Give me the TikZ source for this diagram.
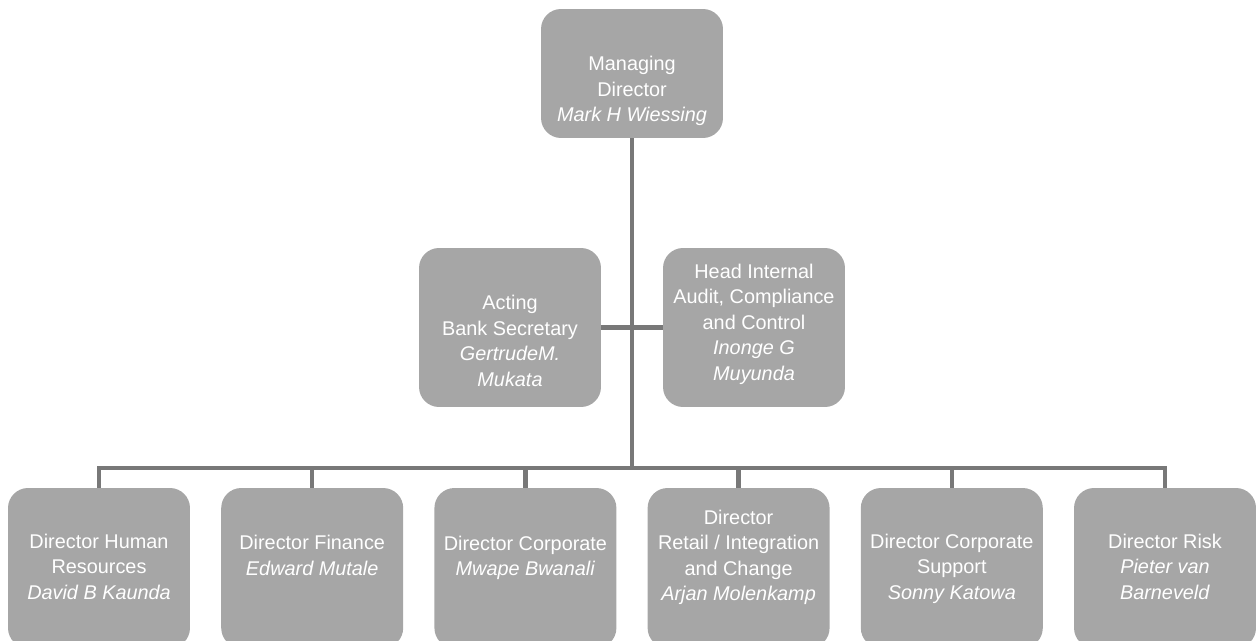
\documentclass[tikz,border=0pt]{standalone}
\usepackage{fontspec}
\setmainfont{Liberation Sans}
\usetikzlibrary{positioning}
\definecolor{boxgray}{RGB}{166,166,166}
\definecolor{linegray}{RGB}{120,120,120}

\begin{document}
\begin{tikzpicture}[
    x=0.02cm, y=-0.02cm,
    box/.style={rectangle, rounded corners=0.4cm, fill=boxgray, minimum width=3.64cm, inner sep=0pt},
    topbox/.style={box, minimum height=2.58cm},
    midbox/.style={box, minimum height=3.18cm},
    lowbox/.style={box, minimum height=3.2cm},
    txt/.style={align=center, text=white, inner sep=0pt, font=\fontsize{11.3}{14.5}\selectfont},
    connection/.style={draw=linegray, line width=2.5pt}
]
\useasboundingbox (0,0) rectangle (1256,641);

% Managing director
\node[topbox] (md) at (632,73.5) {};
\node[txt] (mdt) at (632,91) {Managing\\Director\\\textit{Mark H Wiessing}};

% Staff boxes
\node[midbox] (bs) at (510,327.5) {};
\node[txt] (bst) at (510,341) {Acting\\Bank Secretary\\\textit{GertrudeM.}\\\textit{Mukata}};
\node[midbox] (ia) at (754,327.5) {};
\node[txt] (iat) at (754,324) {Head Internal\\Audit, Compliance\\and Control\\\textit{Inonge G}\\\textit{Muyunda}};

% Directors
\node[lowbox] (hr) at (99,568) {};
\node[txt] (hrt) at (99,566.5) {Director Human\\Resources\\\textit{David B Kaunda}};
\node[lowbox] (fin) at (312.2,568) {};
\node[txt] (fint) at (312.2,555.5) {Director Finance\\\textit{Edward Mutale}};
\node[lowbox] (corp) at (525.4,568) {};
\node[txt] (corpt) at (525.4,558) {Director Corporate\\\textit{Mwape Bwanali}};
\node[lowbox] (ret) at (738.6,568) {};
\node[txt] (rett) at (738.6,557.5) {Director\\Retail / Integration\\and Change\\\textit{Arjan Molenkamp}};
\node[lowbox] (sup) at (951.8,568) {};
\node[txt] (supt) at (951.8,568.5) {Director Corporate\\Support\\\textit{Sonny Katowa}};
\node[lowbox] (risk) at (1165,568) {};
\node[txt] (riskt) at (1165,566.5) {Director Risk\\\textit{Pieter van}\\\textit{Barneveld}};

% Connections
\coordinate (bus) at (632,468);
\draw[connection] (md) -- (bus);
\draw[connection] (bs) -- (ia);
\foreach \b in {hr,fin,corp,ret,sup,risk} {
    \draw[connection] (bus) -| (\b);
}

\end{tikzpicture}
\end{document}
